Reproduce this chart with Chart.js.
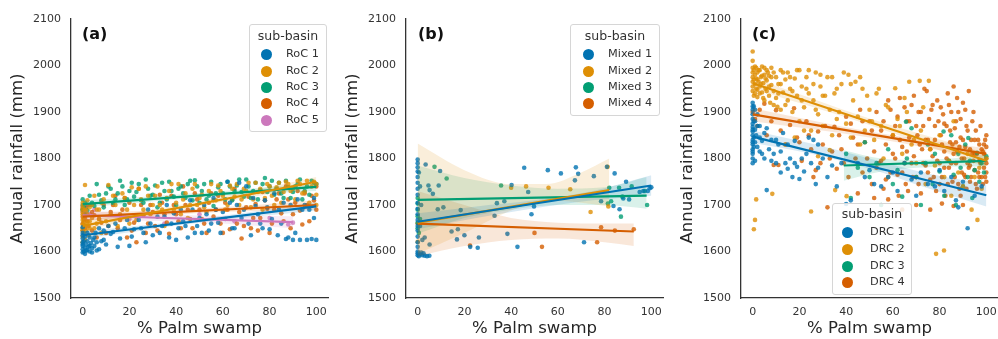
<!DOCTYPE html>
<html lang="en">
<head>
    <meta charset="UTF-8">
    <title>Annual rainfall vs % Palm swamp</title>
    <script src="https://cdn.jsdelivr.net/npm/chart.js"></script>
    <style>
        body { margin: 0; width: 998px; height: 339px; overflow: hidden; background: #fff; font-family: "DejaVu Sans", sans-serif; }
        .panel { position: absolute; top: 0; width: 335px; height: 339px; }
        .tag { position: absolute; top: 24px; font-weight: bold; font-size: 16px; color: #111; }
        .legend { position: absolute; border: 1px solid #d6d6d6; border-radius: 3px; background: rgba(255,255,255,0.85); color: #333; }
        .legend .title { position: absolute; left: 0; right: 0; text-align: center; font-size: 12.5px; line-height: 14px; }
        .legend .row { position: absolute; font-size: 11.3px; line-height: 14px; white-space: nowrap; }
        .legend .dot { position: absolute; width: 11px; height: 11px; border-radius: 50%; }
    </style>
</head>
<body>

    <div class="panel" style="left:0"><canvas id="chartA" width="335" height="339"></canvas></div>
    <div class="panel" style="left:335px"><canvas id="chartB" width="335" height="339"></canvas></div>
    <div class="panel" style="left:670px"><canvas id="chartC" width="335" height="339"></canvas></div>

    <div class="tag" style="left:82px">(a)</div>
    <div class="tag" style="left:418px">(b)</div>
    <div class="tag" style="left:752px">(c)</div>

    <div id="legA" class="legend" style="left:249px; top:24px; width:76px; height:106px"></div>
    <div id="legB" class="legend" style="left:570px; top:24px; width:88px; height:90px"></div>
    <div id="legC" class="legend" style="left:832px; top:203px; width:78px; height:90px"></div>

    <script>
        // axes
        const xTicks = [0, 20, 40, 60, 80, 100];
        const yTicks = [1500, 1600, 1700, 1800, 1900, 2000, 2100];
        const xLabel = "% Palm swamp";
        const yLabel = "Annual rainfall (mm)";
        const legendTitle = "sub-basin";

        // seaborn colorblind palette
        const palette = ["1,115,178", "222,143,5", "2,158,115", "213,94,0", "204,120,188"];

        // ---------- panel (a) ----------
        const namesA = ["RoC 1", "RoC 2", "RoC 3", "RoC 4", "RoC 5"];
        const roc1 = [[0,1598],[0,1605],[0,1612],[0,1620],[0,1628],[0,1640],[0,1652],[0.5,1600],[1,1608],[1,1595],[1.5,1615],[2,1603],[2,1622],[2.5,1610],[3,1630],[3,1600],[3.5,1618],[4,1607],[4.5,1625],[5,1612],[5.5,1640],[6,1620],[7,1605],[8,1622],[9,1645],[10,1615],[11,1655],[12,1638],[14,1660],[16,1628],[18,1650],[20,1612],[22,1648],[24,1668],[26,1640],[28,1690],[30,1635],[32,1675],[34,1655],[36,1700],[38,1660],[40,1625],[42,1690],[44,1655],[46,1710],[48,1640],[50,1672],[52,1700],[54,1645],[56,1715],[58,1662],[60,1685],[62,1750],[64,1650],[66,1700],[67,1748],[68,1672],[70,1740],[72,1635],[74,1698],[76,1660],[78,1710],[80,1648],[82,1725],[83.5,1635],[84,1690],[86,1705],[87,1627],[88,1630],[90,1625],[91,1640],[92,1712],[93,1625],[94,1690],[95,1700],[96,1625],[98,1627],[99,1672],[100,1625],
            [0,1615],[0,1635],[0.5,1622],[1,1632],[1.5,1602],[2,1640],[3,1612],[4,1598],[5,1630],[6,1602],[7,1650],[9,1625],[13,1642],[15,1610],[19,1668],[21,1632],[25,1650],[27,1620],[29,1660],[33,1640],[35,1675],[37,1630],[39,1682],[41,1650],[43,1665],[45,1630],[47,1690],[49,1655],[51,1640],[53,1680],[55,1660],[57,1690],[59,1640],[61,1670],[63,1705],[65,1650],[69,1690],[71,1660],[73,1715],[75,1680],[77,1650],[79,1695],[81,1670],[85,1660],[89,1700],[97,1690],[99,1715]];
        const roc2 = [[0,1632],[0,1645],[0,1658],[0,1668],[0,1680],[0,1692],[0,1705],[0.5,1640],[0.5,1675],[1,1655],[1,1743],[1,1625],[1.5,1688],[2,1662],[2,1710],[3,1650],[3,1695],[4,1672],[5,1720],[6,1660],[7,1690],[8,1640],[9,1712],[11,1743],[12,1680],[14,1700],[15,1655],[17,1725],[19,1690],[21,1738],[23,1668],[25,1712],[27,1740],[29,1680],[31,1720],[33,1700],[35,1655],[37,1730],[39,1690],[41,1745],[43,1712],[45,1672],[47,1735],[49,1700],[51,1722],[53,1685],[55,1745],[57,1710],[59,1730],[61,1690],[63,1742],[65,1718],[67,1700],[69,1735],[71,1748],[73,1712],[75,1728],[77,1690],[79,1745],[81,1720],[83,1738],[85,1705],[87,1750],[89,1730],[91,1712],[93,1745],[95,1728],[96,1752],[97,1705],[98,1740],[99,1750],[100,1722],
            [0,1620],[0,1650],[0,1685],[0,1698],[0.5,1660],[1,1670],[1,1690],[1.5,1645],[2,1680],[2.5,1635],[3,1665],[4,1700],[5,1650],[6,1690],[7,1670],[8,1705],[10,1665],[13,1720],[16,1680],[18,1715],[20,1660],[22,1700],[24,1735],[26,1690],[28,1720],[30,1700],[32,1740],[34,1690],[36,1715],[38,1745],[40,1705],[42,1680],[44,1725],[46,1700],[48,1745],[50,1715],[52,1695],[54,1730],[56,1710],[58,1742],[60,1720],[62,1700],[64,1735],[66,1745],[68,1712],[70,1730],[72,1695],[74,1748],[76,1735],[78,1715],[80,1740],[82,1700],[84,1748],[86,1728],[88,1745],[90,1735],[92,1752],[94,1725],[100,1745],[100,1700]];
        const roc3 = [[0,1690],[0,1700],[0,1712],[0.5,1695],[1,1705],[2,1688],[3,1720],[5,1698],[6,1745],[8,1710],[10,1725],[12,1735],[14,1712],[16,1752],[18,1700],[20,1730],[22,1718],[24,1745],[26,1705],[28,1735],[30,1722],[32,1695],[34,1748],[36,1712],[38,1730],[40,1700],[42,1740],[44,1715],[46,1752],[48,1753],[50,1705],[52,1745],[54,1720],[56,1698],[58,1738],[60,1725],[62,1750],[64,1710],[66,1742],[68,1728],[70,1755],[72,1715],[74,1748],[76,1732],[78,1758],[80,1740],[82,1722],[84,1748],[86,1715],[88,1738],[90,1728],[92,1745],[94,1712],[96,1740],[98,1752],[100,1745],
            [1,1680],[4,1705],[7,1722],[9,1695],[11,1740],[13,1705],[15,1725],[17,1740],[19,1712],[21,1748],[23,1728],[25,1710],[27,1755],[29,1720],[31,1742],[33,1705],[35,1730],[37,1750],[39,1718],[41,1735],[43,1725],[45,1745],[47,1710],[49,1740],[51,1730],[53,1712],[55,1750],[57,1725],[59,1745],[61,1712],[63,1740],[65,1730],[67,1755],[69,1718],[71,1740],[73,1730],[75,1712],[77,1745],[79,1728],[81,1752],[83,1735],[85,1725],[87,1752],[89,1715],[91,1740],[93,1755],[95,1730],[97,1722],[99,1748]];
        const roc4 = [[0,1660],[0,1675],[0,1690],[1,1650],[1,1682],[2,1665],[3,1700],[4,1645],[5,1678],[6,1630],[8,1662],[9,1700],[10,1640],[12,1685],[14,1720],[15,1650],[17,1690],[19,1630],[20,1705],[22,1662],[23,1620],[24,1735],[26,1678],[27,1640],[29,1700],[31,1655],[33,1722],[35,1680],[37,1638],[39,1700],[41,1665],[43,1740],[45,1690],[47,1650],[49,1712],[51,1670],[53,1640],[55,1725],[57,1690],[59,1660],[61,1705],[63,1648],[65,1735],[67,1685],[68,1628],[69,1655],[71,1718],[73,1672],[75,1645],[77,1728],[79,1692],[81,1660],[83,1712],[85,1682],[87,1740],[89,1650],[91,1705],[93,1688],[95,1725],[97,1665],[99,1710],[100,1690],
            [0,1645],[0.5,1668],[1.5,1695],[2.5,1655],[4,1685],[7,1670],[11,1655],[13,1700],[16,1668],[18,1715],[21,1645],[25,1700],[28,1660],[30,1685],[32,1645],[34,1705],[36,1662],[38,1720],[40,1680],[42,1650],[44,1700],[46,1670],[48,1725],[50,1690],[52,1660],[54,1705],[56,1675],[58,1720],[60,1640],[62,1690],[64,1712],[66,1660],[70,1695],[72,1650],[74,1702],[76,1672],[78,1710],[80,1640],[82,1690],[84,1725],[86,1665],[88,1712],[90,1680],[92,1730],[94,1658],[96,1700],[98,1720],[100,1740]];
        const roc5 = [[0,1685],[0,1695],[1,1672],[2,1700],[3,1680],[5,1690],[20,1670],[35,1660],[50,1680],[65,1665],[80,1672],[88,1658],[90,1662]];
        const fitA = [[[0,1635],[100,1697]], [[0,1655],[100,1750]], [[0,1702],[100,1739]], [[0,1675],[100,1700]], [[0,1678],[90,1663]]];
        const bandXA  = [[0,50,100], [0,50,100], [0,50,100], [0,50,100], [0,45,90]];
        const bandLoA = [[1627,1662,1688], [1645,1698,1740], [1694,1716,1730], [1666,1683,1690], [1668,1664,1650]];
        const bandHiA = [[1643,1670,1706], [1665,1708,1760], [1710,1726,1748], [1684,1692,1710], [1688,1678,1676]];

        // ---------- panel (b) ----------
        const namesB = ["Mixed 1", "Mixed 2", "Mixed 3", "Mixed 4"];
        const mixed1 = [[0,1798],[0,1790],[0,1781],[0,1772],[0,1760],[0,1748],[0,1735],[0,1722],[0,1705],[0,1692],[0,1680],[0,1668],[0,1655],[0,1645],[0,1632],[0,1620],[0,1610],[0,1600],[0,1596],[0,1592],[0.5,1590],[1,1594],[1.5,1598],[2,1592],[2.5,1596],[3,1591],[4,1590],[5,1591],[0.5,1770],[1,1740],[1.5,1700],[1,1655],[2,1625],[3.4,1787],[3,1630],[4.6,1742],[5.1,1732],[5.1,1615],[6.5,1724],[9,1742],[9.6,1773],[8.6,1691],[11,1695],[14.5,1643],[16.8,1626],[17.2,1648],[18.4,1689],[20,1635],[22.5,1610],[25.7,1608],[26.2,1630],[32.9,1677],[33.9,1704],[37.1,1708],[38.4,1638],[40.2,1743],[42.7,1610],[45.6,1780],[47.3,1728],[48.7,1680],[49.8,1697],[55.7,1775],[61.3,1768],[67.3,1753],[67.7,1781],[68.7,1767],[71.2,1620],[75.4,1762],[78.5,1708],[81,1782],[83.8,1698],[84.3,1768],[86.4,1691],[88,1714],[89.2,1750],[90.5,1712],[95,1728],[96.6,1730],[98.5,1730],[99.3,1736],[100,1738]];
        const mixed2 = [[0,1621],[40,1737],[46.4,1740],[56,1737],[65.3,1734],[74,1685],[81.3,1782],[81.6,1697]];
        const mixed3 = [[0,1650],[0,1662],[0,1676],[0,1690],[0,1703],[0,1715],[0.5,1640],[1,1670],[7.2,1782],[12.4,1757],[35.7,1742],[81.4,1703],[82,1737],[82.8,1708],[86.2,1737],[87,1675],[87.6,1718],[91.6,1740],[97.2,1730],[98.2,1700]];
        const mixed4 = [[0,1660],[22.4,1613],[50,1640],[53.2,1610],[76.8,1620],[78.5,1652],[84.4,1645],[92.5,1648]];
        const fitB = [[[0,1664],[100,1742]], [[0,1662],[82,1732]], [[0,1711],[98,1720]], [[0,1660],[92.5,1643]]];
        const bandXB  = [[0,25,50,75,100], [0,20,40,55,70,82], [0,20,40,60,80,98], [0,20,40,60,80,92.5]];
        const bandLoB = [[1648,1672,1693,1710,1720], [1595,1640,1688,1710,1705,1697], [1638,1672,1690,1700,1700,1692], [1590,1612,1625,1628,1620,1612]];
        const bandHiB = [[1682,1697,1710,1730,1764], [1832,1775,1745,1745,1770,1800], [1785,1758,1742,1735,1738,1760], [1730,1700,1672,1662,1660,1660]];

        // ---------- panel (c) ----------
        const namesC = ["DRC 1", "DRC 2", "DRC 3", "DRC 4"];
        const drc1 = [[0,1920],[0,1905],[0,1895],[0,1885],[0,1875],[0,1868],[0,1858],[0,1850],[0,1840],[0,1830],[0,1820],[0,1810],[0,1800],[0,1790],[0.5,1912],[0.5,1880],[1,1862],[1,1835],[1,1795],[1.5,1850],[2,1825],[2,1870],[3,1845],[3,1815],[4,1838],[5,1800],[5,1855],[6,1732],[7,1820],[8,1840],[9,1810],[10,1790],[11,1830],[12,1770],[13,1855],[14,1790],[15,1778],[16,1800],[17,1760],[18,1838],[19,1782],[20,1756],[21,1800],[22,1772],[24,1845],[25,1790],[26,1840],[27,1745],[28,1780],[30,1800],[32,1760],[34,1785],[36,1740],[38,1790],[40,1702],[42,1710],[45,1790],[48,1760],[50,1775],[52,1745],[55,1740],[58,1760],[60,1770],[62,1730],[65,1790],[68,1755],[70,1720],[72,1770],[75,1745],[78,1740],[80,1775],[82,1730],[85,1760],[87,1710],[88,1695],[90,1750],[92,1650],[95,1720],[98,1740],
            [0,1912],[0,1862],[0,1835],[0,1815],[0.5,1845],[0.5,1825],[1,1905],[1,1880],[2,1895],[3,1870],[4,1810],[6,1865],[8,1795],[10,1840],[12,1815],[15,1830],[18,1790],[23,1810],[28,1830]];
        const drc2 = [[0,2030],[0,2010],[0,1995],[0,1985],[0,1975],[0,1965],[0,1955],[0,1945],[0.5,1990],[0.5,1970],[1,1980],[1,1960],[1,1940],[1.5,1995],[1.5,1950],[2,1985],[2,1970],[2,1932],[2.5,1965],[3,1990],[3,1955],[3.5,1975],[4,1942],[4,1998],[4.5,1962],[5,1980],[5,1925],[5.5,1950],[6,1990],[6,1968],[7,1935],[7,1978],[8,1958],[8,1995],[9,1945],[9,1915],[10,1975],[10,1930],[10.6,1911],[11,1960],[12,1990],[12,1905],[13,1942],[14,1970],[14,1830],[15,1925],[15,1985],[16,1950],[17,1900],[18,1972],[18,1845],[19,1935],[20,1990],[20,1880],[21,1955],[22,1910],[22,1860],[23,1975],[24,1940],[25,1860],[26,1925],[27,1985],[28,1895],[28,1805],[29,1955],[30,1870],[31,1935],[32,1975],[33,1905],[33,1818],[34,1850],[35,1940],[36,1885],[38,1960],[40,1875],[41,1980],[42,1845],[43,1925],[44,1965],[45,1890],[46,1830],[47,1950],[48,1860],[50,1905],[52,1840],[53,1940],[55,1870],[56,1800],[57,1915],[58,1760],[60,1850],[61,1951],[62,1885],[64,1810],[65,1930],[67,1965],[68,1830],[70,1790],[71.5,1967],[72,1860],[74,1745],[75.4,1967],[76,1820],[78,1785],[78.5,1595],[80,1850],[81.9,1602],[82,1760],[84,1795],[85,1720],[86,1880],[88,1770],[90,1740],[92,1810],[93.7,1690],[95,1760],[96.2,1668],[97,1780],[98,1735],[100,1800],[1.5,1712],[1,1668],[0.5,1648],[8.4,1724],[25,1686],[35.3,1732],[40.2,1719],
            [0.5,1935],[1,1998],[1.5,1972],[2,1948],[2.5,1990],[3,1940],[3.5,1960],[4,1978],[4.5,1930],[5,1995],[5.5,1972],[6,1945],[6.5,1985],[7,1955],[7.5,1920],[8,1975],[9,1985],[11,1940],[12,1960],[13,1985],[14,1915],[16,1975],[17,1945],[19,1990],[21,1925],[23,1950],[24,1990],[26,1960],[27,1905],[29,1980],[30,1935],[34,1975],[36,1950],[37,1900],[39,1985],[42,1960],[46,1975],[49,1935],[51,1880],[54,1950],[58,1910],[63,1870],[66,1900],[69,1840],[73,1910]];
        const drc3 = [[40,1810],[42,1715],[45,1780],[48,1835],[50,1760],[53,1790],[55,1700],[58,1820],[60,1745],[62,1775],[64,1718],[65.6,1879],[66,1800],[68,1865],[70,1760],[72,1700],[74,1790],[75,1830],[77,1745],[78,1810],[80,1772],[81.7,1858],[82,1720],[84,1795],[85,1850],[86,1765],[87,1700],[88,1810],[89,1780],[90,1740],[91,1830],[92.3,1844],[92,1760],[93,1795],[94,1715],[95,1775],[96,1812],[97,1750],[98,1790],[99,1770],[100,1805]];
        const drc4 = [[0,1900],[1,1885],[2,1870],[3,1905],[5,1918],[6,1850],[8,1880],[9,1786],[10,1904],[11,1786],[12,1860],[14,1830],[16,1872],[17.7,1908],[19,1845],[21,1795],[23,1880],[25,1820],[26,1760],[27,1775],[28,1858],[30,1830],[32,1695],[33,1800],[35,1868],[36,1778],[38,1820],[40,1890],[41,1760],[43,1845],[44,1800],[45,1725],[46,1905],[47,1770],[48,1835],[50,1880],[51,1745],[52,1815],[52,1715],[53,1900],[54,1790],[55,1860],[56,1735],[57,1830],[58,1925],[58,1712],[59,1770],[60,1850],[61,1800],[62,1890],[62.5,1720],[63,1840],[64,1770],[64,1690],[65,1910],[65.5,1745],[66,1815],[67,1880],[68,1790],[69,1935],[70,1760],[70,1700],[70.5,1850],[71,1900],[72,1725],[72.5,1820],[73,1870],[74,1785],[74.5,1945],[75,1840],[76,1755],[76,1690],[76.5,1905],[77,1805],[78,1870],[78.5,1730],[79,1925],[80,1790],[80.5,1850],[81,1760],[81,1703],[81.5,1895],[82,1815],[82.5,1720],[83,1870],[83.5,1940],[84,1780],[84.5,1835],[85,1900],[85.5,1750],[86,1810],[86,1698],[86.5,1865],[87,1790],[87.5,1930],[88,1745],[88.5,1825],[89,1885],[89.5,1770],[90,1840],[90,1700],[90.5,1800],[91,1905],[91.5,1735],[92,1860],[92.5,1780],[93,1820],[93.5,1760],[94,1880],[94.5,1795],[95,1840],[95.5,1745],[96,1810],[96.5,1770],[97,1830],[97.5,1790],[98,1760],[98.5,1815],[99,1780],[99.5,1840],[100,1800],[100,1770],[100,1825],
            [55,1795],[56,1880],[57,1755],[59,1905],[60,1810],[61,1870],[62,1765],[63,1930],[64,1825],[65,1790],[66,1880],[66.5,1730],[67,1845],[68,1915],[68.5,1760],[69,1805],[70,1870],[71,1745],[71.5,1830],[72,1900],[73,1790],[73.5,1950],[74,1840],[75,1770],[75.5,1885],[76,1820],[77,1915],[77.5,1760],[78,1840],[79,1795],[79.5,1880],[80,1745],[80.5,1910],[81,1830],[82,1875],[82,1780],[83,1800],[83.5,1745],[84,1915],[84.5,1860],[85,1790],[85.5,1830],[86,1955],[86.5,1760],[87,1880],[87.5,1815],[88,1900],[88.5,1735],[89,1845],[89.5,1800],[90,1920],[90.5,1765],[91,1825],[91.5,1870],[92,1790],[92.5,1945],[93,1750],[93.5,1840],[94,1810],[94.5,1900],[95,1775],[95.5,1860],[96,1735],[96.5,1840],[97,1795],[97.5,1870],[98,1820],[98.5,1745],[99,1810],[99.5,1760],[100,1850],[100,1790],[100,1750],[99,1830],[97,1760],[95,1810],[93,1785],[91,1760],[89,1720],[87,1835],
            [20,1835],[24,1850],[29,1790],[31,1870],[34,1815],[37,1850],[39,1790],[42,1875],[45,1830],[47,1880],[49,1800],[51,1860],[53,1780]];
        const fitC = [[[0,1847],[100,1721]], [[0,1962],[100,1795]], [[39,1785],[100,1795]], [[0,1895],[100,1810]]];
        const bandXC  = [[0,25,50,75,100], [0,50,100], [39,55,70,85,100], [0,50,100]];
        const bandLoC = [[1834,1810,1778,1736,1697], [1950,1872,1780], [1752,1772,1780,1783,1783], [1880,1845,1798]];
        const bandHiC = [[1860,1832,1800,1768,1745], [1974,1886,1812], [1818,1800,1797,1800,1808], [1908,1858,1822]];

        function rgba(c, a) { return "rgba(" + c + "," + a + ")"; }
        function xy(list) { return list.map(p => ({ x: p[0], y: p[1] })); }

        function buildDatasets(points, fits, bx, blo, bhi) {
            let ds = [];
            points.forEach((pts, i) => {
                ds.push({
                    data: xy(pts), backgroundColor: rgba(palette[i], 0.8),
                    pointRadius: 2.3, pointBorderWidth: 0, order: 2
                });
            });
            bx.forEach((xs, i) => {
                ds.push({
                    type: "line", data: xs.map((x, k) => ({ x: x, y: bhi[i][k] })),
                    borderWidth: 0, pointRadius: 0, cubicInterpolationMode: "monotone", fill: false, order: 1
                });
                ds.push({
                    type: "line", data: xs.map((x, k) => ({ x: x, y: blo[i][k] })),
                    borderWidth: 0, pointRadius: 0, cubicInterpolationMode: "monotone",
                    fill: "-1", backgroundColor: rgba(palette[i], 0.15), order: 1
                });
            });
            fits.forEach((f, i) => {
                ds.push({
                    type: "line", data: xy(f), borderColor: rgba(palette[i], 1),
                    borderWidth: 2.2, pointRadius: 0, fill: false, order: 0
                });
            });
            return ds;
        }

        function makeChart(id, datasets) {
            let ctx = document.getElementById(id).getContext("2d");
            new Chart(ctx, {
                type: "scatter",
                data: { datasets: datasets },
                options: {
                    responsive: false,
                    animation: false,
                    layout: { padding: { top: 19, right: 4, left: 0, bottom: 0 } },
                    plugins: { legend: { display: false }, tooltip: { enabled: false } },
                    scales: {
                        x: {
                            type: "linear", min: -5, max: 105,
                            grid: { display: false, drawTicks: false },
                            border: { display: true, color: "#333", width: 1.3 },
                            afterBuildTicks: s => { s.ticks = xTicks.map(v => ({ value: v })); },
                            afterFit: s => { s.height = 41; },
                            ticks: { padding: 8, color: "#333", font: { family: "DejaVu Sans", size: 11 },
                                     callback: v => String(v) },
                            title: { display: true, text: xLabel, color: "#262626", padding: { top: 0, bottom: 0 },
                                     font: { family: "DejaVu Sans", size: 16.5 } }
                        },
                        y: {
                            min: 1500, max: 2100,
                            grid: { display: false, drawTicks: false },
                            border: { display: true, color: "#333", width: 1.3 },
                            afterBuildTicks: s => { s.ticks = yTicks.map(v => ({ value: v })); },
                            afterFit: s => { s.width = 71; },
                            ticks: { padding: 10, color: "#333", font: { family: "DejaVu Sans", size: 11 },
                                     callback: v => String(v) },
                            title: { display: true, text: yLabel, color: "#262626", padding: { top: 8, bottom: 0 },
                                     font: { family: "DejaVu Sans", size: 16.5 } }
                        }
                    }
                }
            });
        }

        function makeLegend(id, names, titleY, rows, dotX, textX) {
            let box = document.getElementById(id);
            let html = '<div class="title" style="top:' + (titleY - 7) + 'px">' + legendTitle + '</div>';
            names.forEach((n, i) => {
                html += '<div class="dot" style="left:' + (dotX - 5.5) + 'px; top:' + (rows[i] - 5.5) + 'px; background:' + rgba(palette[i], 1) + '"></div>';
                html += '<div class="row" style="left:' + textX + 'px; top:' + (rows[i] - 7) + 'px">' + n + '</div>';
            });
            box.innerHTML = html;
        }

        makeChart("chartA", buildDatasets([roc1, roc2, roc3, roc4, roc5], fitA, bandXA, bandLoA, bandHiA));
        makeChart("chartB", buildDatasets([mixed1, mixed2, mixed3, mixed4], fitB, bandXB, bandLoB, bandHiB));
        makeChart("chartC", buildDatasets([drc1, drc2, drc3, drc4], fitC, bandXC, bandLoC, bandHiC));

        makeLegend("legA", namesA, 11, [29, 46, 62, 78, 95], 16, 36);
        makeLegend("legB", namesB, 11, [29, 46, 62, 78], 17, 37);
        makeLegend("legC", namesC, 10, [28, 45, 62, 78], 14, 37);
    </script>

</body>
</html>
